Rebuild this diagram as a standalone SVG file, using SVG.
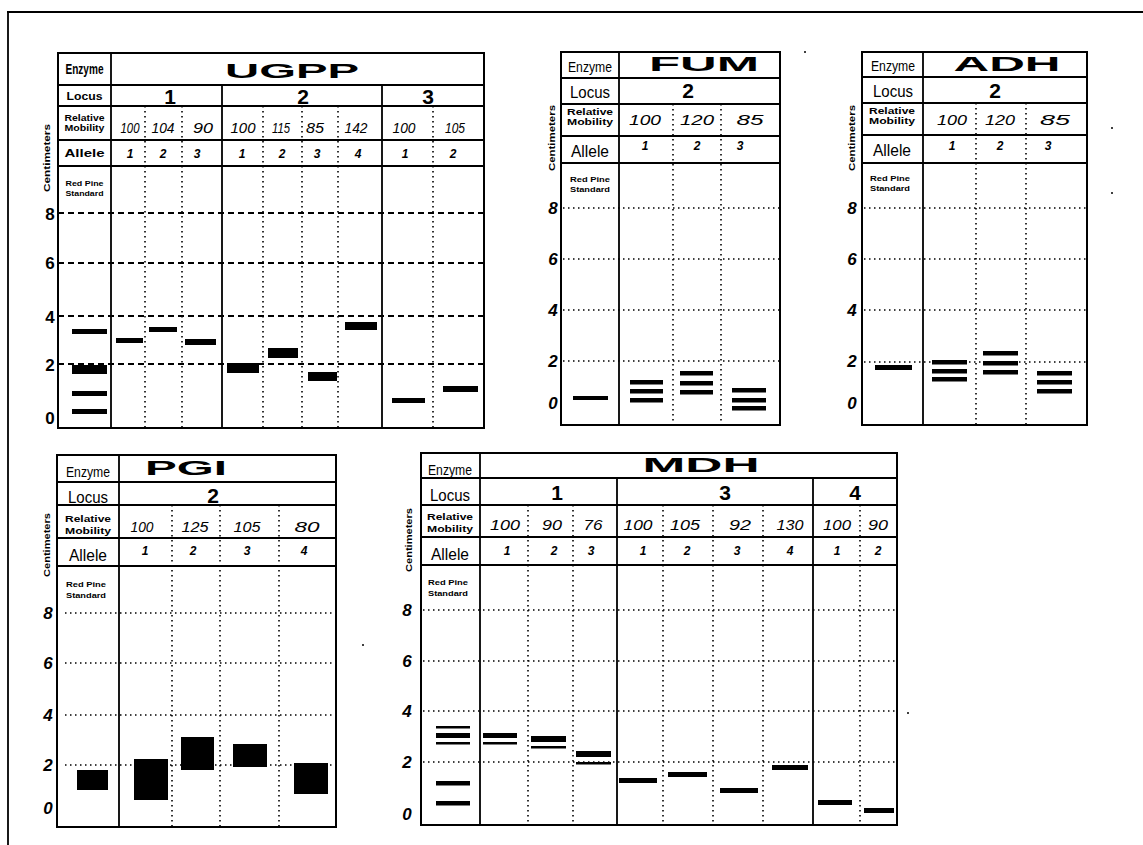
<svg xmlns="http://www.w3.org/2000/svg" width="1143" height="845" viewBox="0 0 1143 845">
<style>
.b{fill:none;stroke:#000;stroke-width:2}
.r{stroke:#000;stroke-width:1.8;fill:none}
.dot{stroke:#000;stroke-width:1.6;stroke-dasharray:1.5 3.5;fill:none}
.dash{stroke:#000;stroke-width:1.8;stroke-dasharray:6 4;fill:none}
text{font-family:"Liberation Sans",Arial,Helvetica,sans-serif;fill:#000;text-anchor:middle}
.ttl{font-weight:bold;font-size:20px}
.lb{font-size:14px}
.lc{font-size:16px}
.sm{font-size:9.5px;font-weight:bold}
.rp{font-size:8px;font-weight:bold}
.cm{font-size:8.5px;font-weight:bold}
.v{font-size:15px;font-style:italic}
.a{font-size:12px;font-style:italic;font-weight:bold}
.ax{font-size:17px;font-style:italic;font-weight:bold}
.axu{font-size:17px;font-weight:bold}
.ln{font-size:21px;font-weight:bold}
.bd{fill:#000}
</style>
<g id="frame">
<line class="r" x1="7" y1="12" x2="1143" y2="12" stroke-width="2.5"/>
<line class="r" x1="8" y1="11" x2="8" y2="845" stroke-width="2.5"/>
</g>
<g id="connectors"/>

<g id="ugpp">
<rect class="b" x="58" y="53" width="426" height="375"/>
<path class="r" d="M58 85H484M58 106H484M58 140H484M58 166H484M111 53V428M222 85V428M382 85V428"/>
<path class="dot" d="M145 106V428M182 106V428M263 106V428M302 106V428M338 106V428M433 106V428"/>
<path class="dash" d="M58 213H484M58 263H484M58 316H484M58 364H484"/>
<text class="lb" x="84.5" y="74" font-size="12" font-weight="bold" textLength="38" lengthAdjust="spacingAndGlyphs">Enzyme</text>
<text class="ttl" x="292" y="78" font-size="21" textLength="134" lengthAdjust="spacingAndGlyphs">UGPP</text>
<text x="84.5" y="100" font-size="10.5" font-weight="bold" textLength="36" lengthAdjust="spacingAndGlyphs">Locus</text>
<text class="ln" x="170" y="104" font-size="19">1</text>
<text class="ln" x="303" y="104" font-size="19">2</text>
<text class="ln" x="428" y="104" font-size="19">3</text>
<text class="sm" x="84.5" y="121" font-size="9" textLength="40" lengthAdjust="spacingAndGlyphs">Relative</text>
<text class="sm" x="84.5" y="131" font-size="9" textLength="40" lengthAdjust="spacingAndGlyphs">Mobility</text>
<text class="v" x="130" y="133" textLength="19" lengthAdjust="spacingAndGlyphs">100</text>
<text class="v" x="163" y="133" textLength="23" lengthAdjust="spacingAndGlyphs">104</text>
<text class="v" x="203" y="133" textLength="20" lengthAdjust="spacingAndGlyphs">90</text>
<text class="v" x="243" y="133" textLength="25" lengthAdjust="spacingAndGlyphs">100</text>
<text class="v" x="281" y="133" textLength="18" lengthAdjust="spacingAndGlyphs">115</text>
<text class="v" x="315" y="133" textLength="18" lengthAdjust="spacingAndGlyphs">85</text>
<text class="v" x="356" y="133" textLength="23" lengthAdjust="spacingAndGlyphs">142</text>
<text class="v" x="404" y="133" textLength="23" lengthAdjust="spacingAndGlyphs">100</text>
<text class="v" x="455" y="133" textLength="20" lengthAdjust="spacingAndGlyphs">105</text>
<text x="84.5" y="157" font-size="11" font-weight="bold" textLength="40" lengthAdjust="spacingAndGlyphs">Allele</text>
<text class="a" x="130" y="158">1</text>
<text class="a" x="163" y="158">2</text>
<text class="a" x="197" y="158">3</text>
<text class="a" x="242" y="158">1</text>
<text class="a" x="282" y="158">2</text>
<text class="a" x="317" y="158">3</text>
<text class="a" x="358" y="158">4</text>
<text class="a" x="405" y="158">1</text>
<text class="a" x="453" y="158">2</text>
<text class="rp" x="84.5" y="186" textLength="38" lengthAdjust="spacingAndGlyphs">Red Pine</text>
<text class="rp" x="84.5" y="196" textLength="38" lengthAdjust="spacingAndGlyphs">Standard</text>
<text class="axu" x="50" y="220">8</text>
<text class="axu" x="50" y="269">6</text>
<text class="axu" x="50" y="323">4</text>
<text class="axu" x="50" y="371">2</text>
<text class="axu" x="50" y="424">0</text>
<text class="cm" transform="rotate(-90 47 158)" x="47" y="161" textLength="68" lengthAdjust="spacingAndGlyphs">Centimeters</text>
<rect class="bd" x="72" y="329" width="35" height="5"/>
<rect class="bd" x="72" y="365" width="35" height="9"/>
<rect class="bd" x="72" y="391" width="35" height="5"/>
<rect class="bd" x="72" y="409" width="35" height="5"/>
<rect class="bd" x="116" y="338" width="27" height="5"/>
<rect class="bd" x="149" y="327" width="28" height="5"/>
<rect class="bd" x="185" y="339" width="31" height="6"/>
<rect class="bd" x="227" y="363" width="32" height="10"/>
<rect class="bd" x="268" y="348" width="30" height="10"/>
<rect class="bd" x="308" y="372" width="29" height="9"/>
<rect class="bd" x="345" y="322" width="32" height="8"/>
<rect class="bd" x="392" y="398" width="33" height="5"/>
<rect class="bd" x="443" y="386" width="35" height="6"/>
</g>

<g id="fum">
<rect class="b" x="561" y="52" width="219" height="373"/>
<path class="r" d="M561 78H780M561 104H780M561 136H780M561 163H780M619 52V425"/>
<path class="dot" d="M673 104V425M721 104V425M563 208H780M563 259H780M563 310H780M563 361H780"/>
<text class="lb" x="590" y="72" textLength="44" lengthAdjust="spacingAndGlyphs">Enzyme</text>
<text class="ttl" x="704" y="71" font-size="18" textLength="110" lengthAdjust="spacingAndGlyphs">FUM</text>
<text class="lc" x="590" y="98" textLength="40" lengthAdjust="spacingAndGlyphs">Locus</text>
<text class="ln" x="688" y="98" font-size="20">2</text>
<text class="sm" x="590" y="115" textLength="46" lengthAdjust="spacingAndGlyphs">Relative</text>
<text class="sm" x="590" y="125" textLength="46" lengthAdjust="spacingAndGlyphs">Mobility</text>
<text class="v" x="645" y="125" font-size="14" textLength="32" lengthAdjust="spacingAndGlyphs">100</text>
<text class="v" x="697" y="125" font-size="14" textLength="34" lengthAdjust="spacingAndGlyphs">120</text>
<text class="v" x="750" y="125" font-size="14" textLength="27" lengthAdjust="spacingAndGlyphs">85</text>
<text class="lc" x="590" y="157" textLength="38" lengthAdjust="spacingAndGlyphs">Allele</text>
<text class="a" x="645" y="150">1</text>
<text class="a" x="697" y="150">2</text>
<text class="a" x="740" y="150">3</text>
<text class="rp" x="590" y="182" textLength="40" lengthAdjust="spacingAndGlyphs">Red Pine</text>
<text class="rp" x="590" y="192" textLength="40" lengthAdjust="spacingAndGlyphs">Standard</text>
<text class="ax" x="553" y="214">8</text>
<text class="ax" x="553" y="265">6</text>
<text class="ax" x="553" y="316">4</text>
<text class="ax" x="553" y="367">2</text>
<text class="ax" x="553" y="409">0</text>
<text class="cm" transform="rotate(-90 552 138)" x="552" y="141" textLength="66" lengthAdjust="spacingAndGlyphs">Centimeters</text>
<rect class="bd" x="573" y="396" width="35" height="4"/>
<rect class="bd" x="630" y="380" width="33" height="4.5"/>
<rect class="bd" x="630" y="389" width="33" height="4.5"/>
<rect class="bd" x="630" y="398" width="33" height="4.5"/>
<rect class="bd" x="680" y="371" width="33" height="4.5"/>
<rect class="bd" x="680" y="381" width="33" height="4.5"/>
<rect class="bd" x="680" y="390" width="33" height="4.5"/>
<rect class="bd" x="732" y="388" width="34" height="4.5"/>
<rect class="bd" x="732" y="398" width="34" height="4.5"/>
<rect class="bd" x="732" y="406" width="34" height="4.5"/>
</g>

<g id="adh">
<rect class="b" x="862" y="52" width="225" height="373"/>
<path class="r" d="M862 77H1087M862 103H1087M862 135H1087M862 163H1087M923 52V425"/>
<path class="dot" d="M976 103V425M1026 103V425M864 208H1087M864 259H1087M864 310H1087M864 362H1087"/>
<text class="lb" x="893" y="71" textLength="44" lengthAdjust="spacingAndGlyphs">Enzyme</text>
<text class="ttl" x="1007" y="71" font-size="18" textLength="107" lengthAdjust="spacingAndGlyphs">ADH</text>
<text class="lc" x="893" y="97" textLength="40" lengthAdjust="spacingAndGlyphs">Locus</text>
<text class="ln" x="995" y="98" font-size="20">2</text>
<text class="sm" x="892" y="114" textLength="46" lengthAdjust="spacingAndGlyphs">Relative</text>
<text class="sm" x="892" y="124" textLength="46" lengthAdjust="spacingAndGlyphs">Mobility</text>
<text class="v" x="952" y="125" font-size="14" textLength="30" lengthAdjust="spacingAndGlyphs">100</text>
<text class="v" x="1000" y="125" font-size="14" textLength="30" lengthAdjust="spacingAndGlyphs">120</text>
<text class="v" x="1055" y="125" font-size="14" textLength="30" lengthAdjust="spacingAndGlyphs">85</text>
<text class="lc" x="892" y="156" textLength="38" lengthAdjust="spacingAndGlyphs">Allele</text>
<text class="a" x="952" y="150">1</text>
<text class="a" x="1000" y="150">2</text>
<text class="a" x="1048" y="150">3</text>
<text class="rp" x="890" y="181" textLength="40" lengthAdjust="spacingAndGlyphs">Red Pine</text>
<text class="rp" x="890" y="191" textLength="40" lengthAdjust="spacingAndGlyphs">Standard</text>
<text class="ax" x="852" y="214">8</text>
<text class="ax" x="852" y="265">6</text>
<text class="ax" x="852" y="316">4</text>
<text class="ax" x="852" y="367">2</text>
<text class="ax" x="852" y="409">0</text>
<text class="cm" transform="rotate(-90 852 138)" x="852" y="141" textLength="66" lengthAdjust="spacingAndGlyphs">Centimeters</text>
<rect class="bd" x="875" y="365" width="37" height="5"/>
<rect class="bd" x="932" y="360" width="35" height="4.5"/>
<rect class="bd" x="932" y="369" width="35" height="4.5"/>
<rect class="bd" x="932" y="377" width="35" height="4.5"/>
<rect class="bd" x="983" y="351" width="35" height="4.5"/>
<rect class="bd" x="983" y="361" width="35" height="4.5"/>
<rect class="bd" x="983" y="370" width="35" height="4.5"/>
<rect class="bd" x="1037" y="371" width="35" height="4.5"/>
<rect class="bd" x="1037" y="380" width="35" height="4.5"/>
<rect class="bd" x="1037" y="389" width="35" height="4.5"/>
</g>

<g id="pgi">
<rect class="b" x="57" y="455" width="279" height="372"/>
<path class="r" d="M57 482H336M57 505H336M57 538H336M57 566H336M119 455V827"/>
<path class="dot" d="M172 505V827M220 505V827M279 505V827M65 613H336M65 663H336M65 715H336M65 765H336"/>
<text class="lb" x="88" y="477" textLength="44" lengthAdjust="spacingAndGlyphs">Enzyme</text>
<text class="ttl" x="186" y="475" font-size="18" textLength="82" lengthAdjust="spacingAndGlyphs">PGI</text>
<text class="lc" x="88" y="503" textLength="40" lengthAdjust="spacingAndGlyphs">Locus</text>
<text class="ln" x="213" y="503" font-size="22">2</text>
<text class="sm" x="88" y="522" textLength="46" lengthAdjust="spacingAndGlyphs">Relative</text>
<text class="sm" x="88" y="534" textLength="46" lengthAdjust="spacingAndGlyphs">Mobility</text>
<text class="v" x="142" y="532" textLength="23" lengthAdjust="spacingAndGlyphs">100</text>
<text class="v" x="195" y="532" textLength="27" lengthAdjust="spacingAndGlyphs">125</text>
<text class="v" x="247" y="532" textLength="27" lengthAdjust="spacingAndGlyphs">105</text>
<text class="v" x="307" y="532" textLength="25" lengthAdjust="spacingAndGlyphs">80</text>
<text class="lc" x="88" y="561" textLength="38" lengthAdjust="spacingAndGlyphs">Allele</text>
<text class="a" x="145" y="555">1</text>
<text class="a" x="193" y="555">2</text>
<text class="a" x="247" y="555">3</text>
<text class="a" x="304" y="555">4</text>
<text class="rp" x="86" y="587" textLength="40" lengthAdjust="spacingAndGlyphs">Red Pine</text>
<text class="rp" x="86" y="598" textLength="40" lengthAdjust="spacingAndGlyphs">Standard</text>
<text class="ax" x="48" y="619">8</text>
<text class="ax" x="48" y="669">6</text>
<text class="ax" x="48" y="721">4</text>
<text class="ax" x="48" y="771">2</text>
<text class="ax" x="48" y="814">0</text>
<text class="cm" transform="rotate(-90 47 545)" x="47" y="548" textLength="64" lengthAdjust="spacingAndGlyphs">Centimeters</text>
<rect class="bd" x="77" y="770" width="31" height="20"/>
<rect class="bd" x="134" y="759" width="34" height="41"/>
<rect class="bd" x="181" y="737" width="33" height="33"/>
<rect class="bd" x="233" y="744" width="34" height="23"/>
<rect class="bd" x="294" y="763" width="34" height="31"/>
</g>

<g id="mdh">
<rect class="b" x="421" y="453" width="476" height="372"/>
<path class="r" d="M421 478H897M421 505H897M421 537H897M421 565H897M480 453V825M617 478V825M813 478V825"/>
<path class="dot" d="M528 505V825M573 505V825M663 505V825M713 505V825M763 505V825M860 505V825M423 610H897M423 661H897M423 711H897M423 762H897"/>
<text class="lb" x="450" y="475" textLength="44" lengthAdjust="spacingAndGlyphs">Enzyme</text>
<text class="ttl" x="701" y="472" font-size="18" textLength="117" lengthAdjust="spacingAndGlyphs">MDH</text>
<text class="lc" x="450" y="501" textLength="40" lengthAdjust="spacingAndGlyphs">Locus</text>
<text class="ln" x="557" y="500" font-size="22">1</text>
<text class="ln" x="725" y="500" font-size="22">3</text>
<text class="ln" x="855" y="500" font-size="22">4</text>
<text class="sm" x="450" y="520" textLength="46" lengthAdjust="spacingAndGlyphs">Relative</text>
<text class="sm" x="450" y="532" textLength="46" lengthAdjust="spacingAndGlyphs">Mobility</text>
<text class="v" x="505" y="530" textLength="30" lengthAdjust="spacingAndGlyphs">100</text>
<text class="v" x="552" y="530" textLength="20" lengthAdjust="spacingAndGlyphs">90</text>
<text class="v" x="593" y="530" textLength="19" lengthAdjust="spacingAndGlyphs">76</text>
<text class="v" x="638" y="530" textLength="29" lengthAdjust="spacingAndGlyphs">100</text>
<text class="v" x="685" y="530" textLength="30" lengthAdjust="spacingAndGlyphs">105</text>
<text class="v" x="740" y="530" textLength="22" lengthAdjust="spacingAndGlyphs">92</text>
<text class="v" x="790" y="530" textLength="27" lengthAdjust="spacingAndGlyphs">130</text>
<text class="v" x="837" y="530" textLength="28" lengthAdjust="spacingAndGlyphs">100</text>
<text class="v" x="878" y="530" textLength="20" lengthAdjust="spacingAndGlyphs">90</text>
<text class="lc" x="450" y="560" textLength="38" lengthAdjust="spacingAndGlyphs">Allele</text>
<text class="a" x="507" y="555">1</text>
<text class="a" x="554" y="555">2</text>
<text class="a" x="591" y="555">3</text>
<text class="a" x="643" y="555">1</text>
<text class="a" x="687" y="555">2</text>
<text class="a" x="737" y="555">3</text>
<text class="a" x="790" y="555">4</text>
<text class="a" x="837" y="555">1</text>
<text class="a" x="878" y="555">2</text>
<text class="rp" x="448" y="585" textLength="40" lengthAdjust="spacingAndGlyphs">Red Pine</text>
<text class="rp" x="448" y="596" textLength="40" lengthAdjust="spacingAndGlyphs">Standard</text>
<text class="ax" x="407" y="616">8</text>
<text class="ax" x="407" y="667">6</text>
<text class="ax" x="407" y="717">4</text>
<text class="ax" x="407" y="768">2</text>
<text class="ax" x="407" y="820">0</text>
<text class="cm" transform="rotate(-90 409 540)" x="409" y="543" textLength="64" lengthAdjust="spacingAndGlyphs">Centimeters</text>
<rect class="bd" x="436" y="726" width="34" height="2.5"/>
<rect class="bd" x="436" y="733" width="34" height="5"/>
<rect class="bd" x="436" y="742" width="34" height="2.5"/>
<rect class="bd" x="436" y="781" width="34" height="4.5"/>
<rect class="bd" x="436" y="801" width="34" height="4.5"/>
<rect class="bd" x="483" y="733" width="34" height="5"/>
<rect class="bd" x="483" y="742" width="34" height="2.5"/>
<rect class="bd" x="531" y="736" width="35" height="6"/>
<rect class="bd" x="531" y="746" width="35" height="2.5"/>
<rect class="bd" x="576" y="751" width="35" height="6"/>
<rect class="bd" x="576" y="762" width="35" height="2.5"/>
<rect class="bd" x="619" y="778" width="38" height="5"/>
<rect class="bd" x="668" y="772" width="39" height="5"/>
<rect class="bd" x="720" y="788" width="38" height="5"/>
<rect class="bd" x="772" y="765" width="36" height="5"/>
<rect class="bd" x="818" y="800" width="34" height="5"/>
<rect class="bd" x="864" y="808" width="30" height="5"/>
</g>

<g id="specks">
<circle cx="805" cy="52" r="1"/>
<circle cx="1112" cy="128" r="1"/>
<circle cx="1112" cy="193" r="1"/>
<circle cx="363" cy="645" r="1"/>
<circle cx="908" cy="713" r="1"/>
</g>
</svg>
